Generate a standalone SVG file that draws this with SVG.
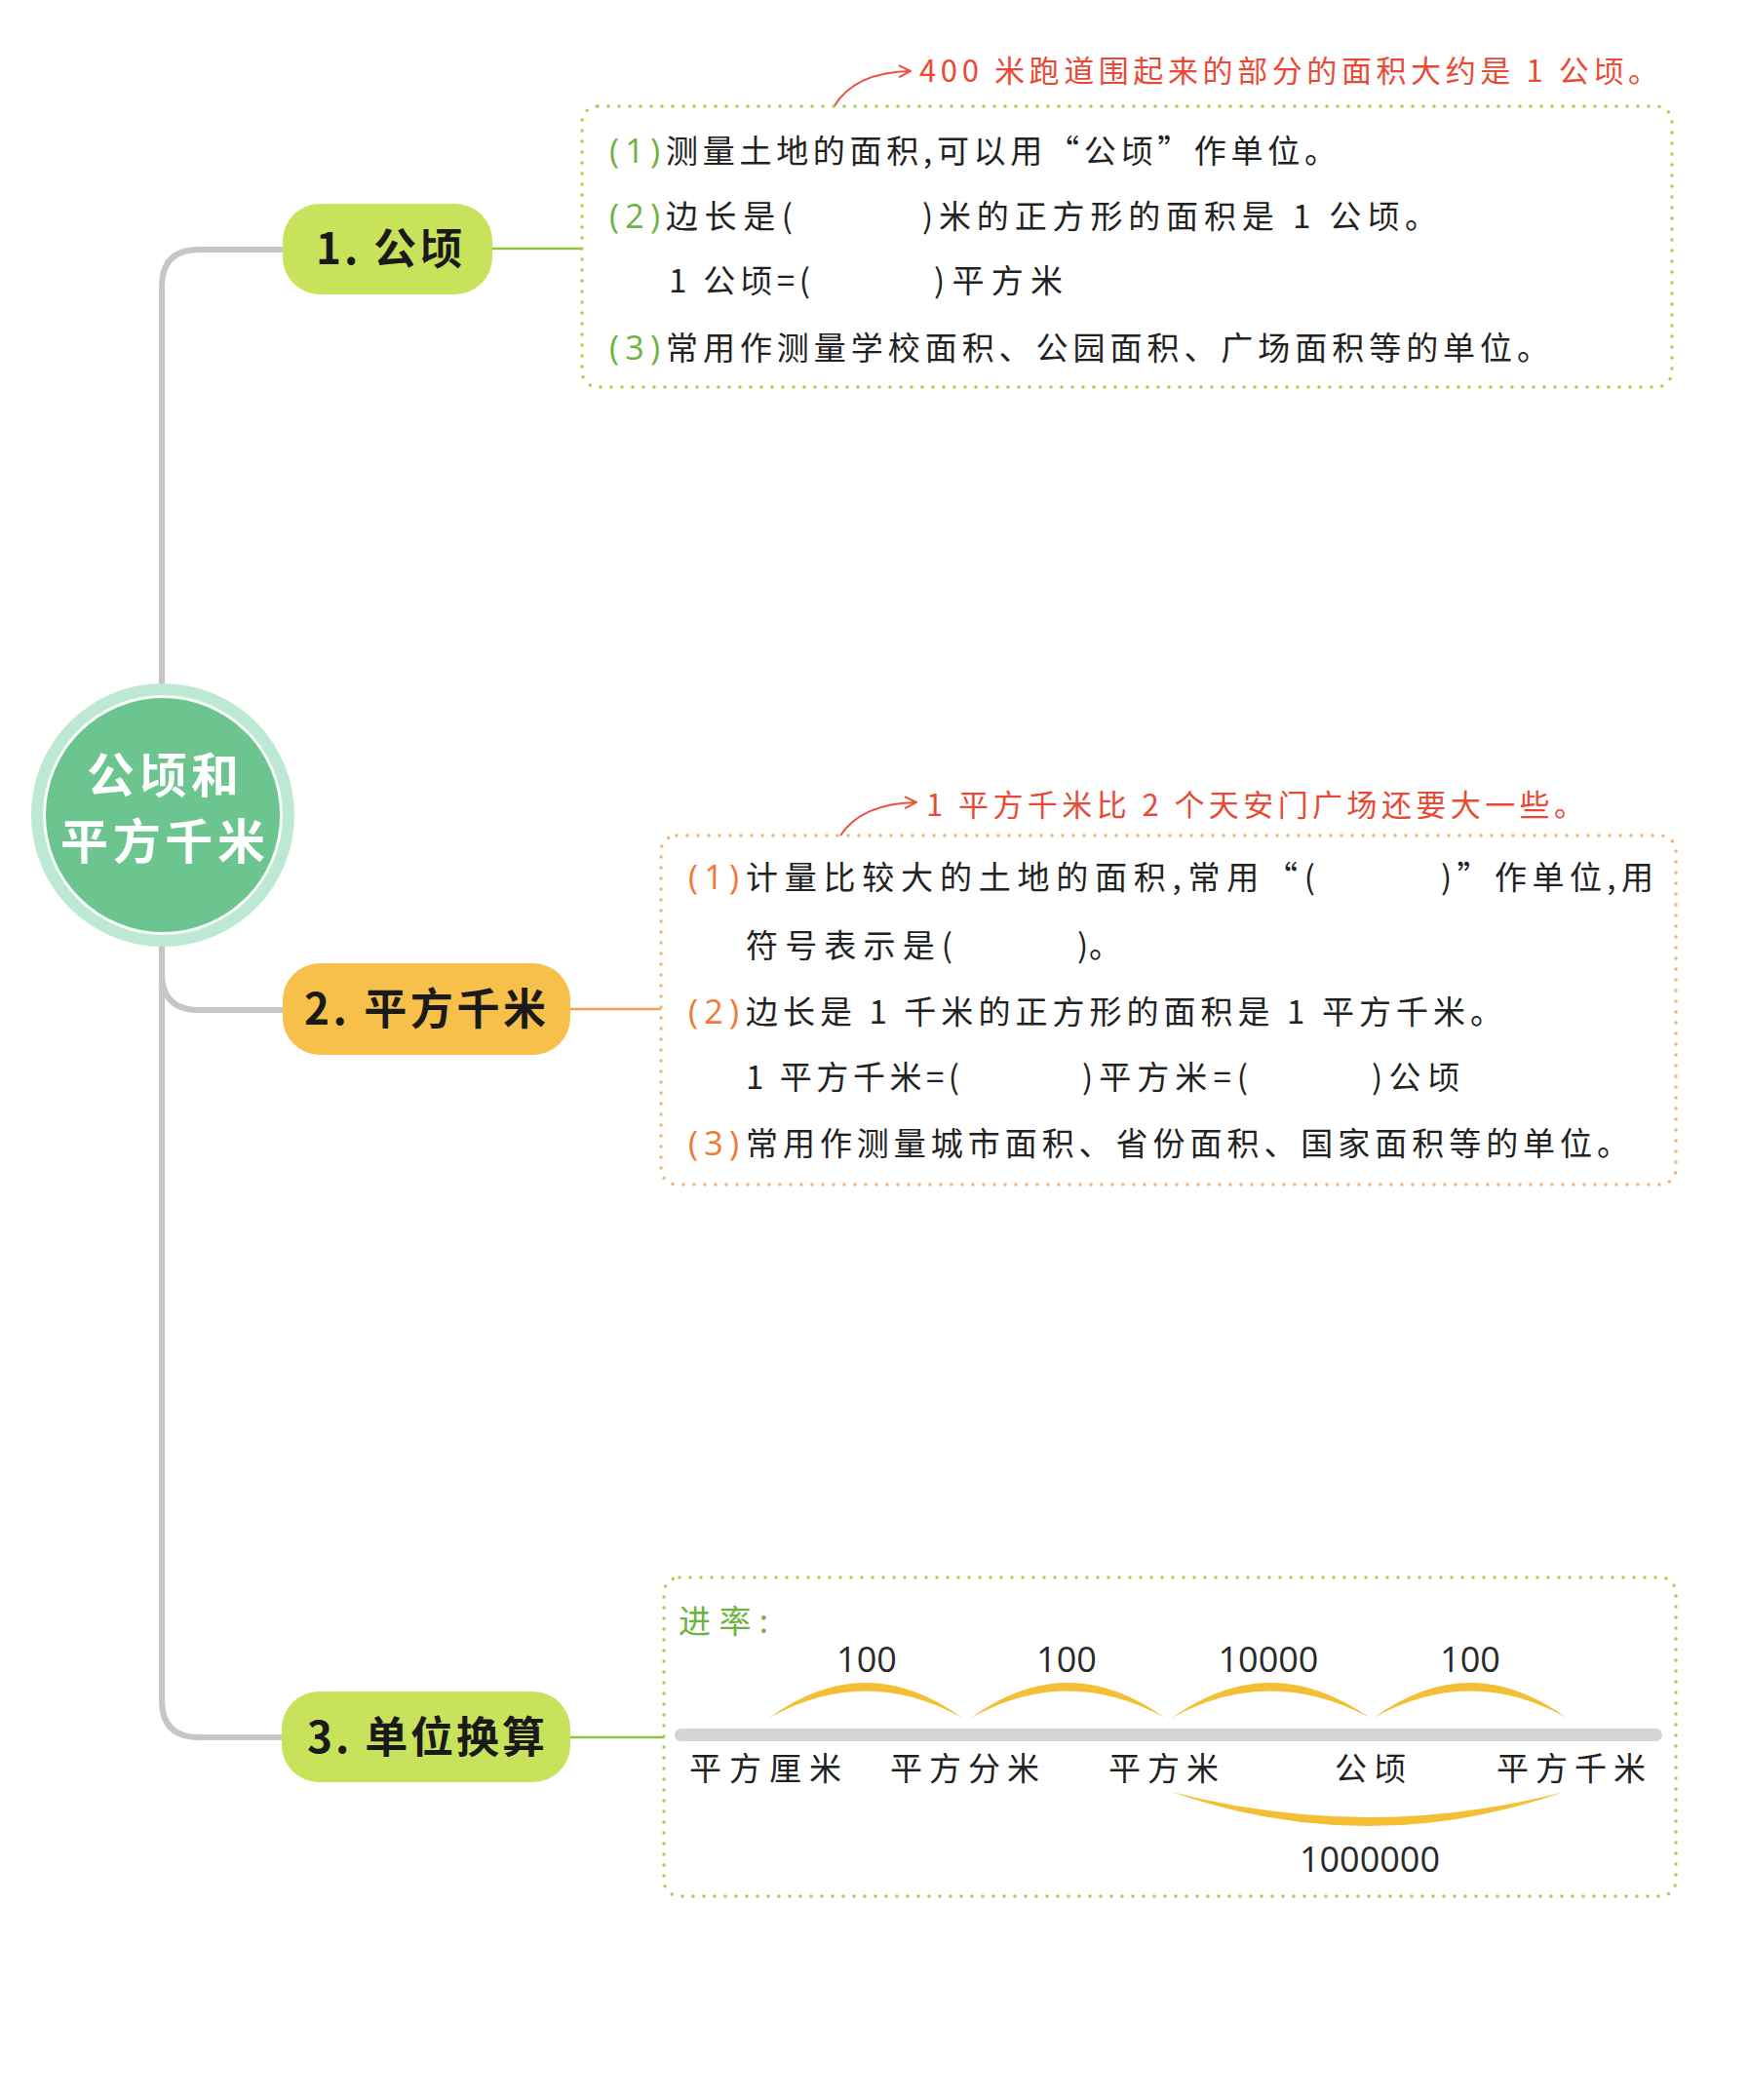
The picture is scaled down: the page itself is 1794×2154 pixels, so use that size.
<svg xmlns="http://www.w3.org/2000/svg" width="1794" height="2154" viewBox="0 0 1794 2154">
<defs>
<style>
.body{font-family:"Noto Sans CJK SC","Noto Sans",sans-serif;font-size:33px;fill:#222}
.num{font-family:"Open Sans","Noto Sans CJK SC",sans-serif;font-size:34px}
.lg{fill:#6db33f}
.lo{fill:#ef7a35}
.red{font-family:"Noto Sans CJK SC",sans-serif;font-size:31px;fill:#e84a35}
.node{font-family:"Noto Sans CJK SC",sans-serif;font-size:44px;font-weight:bold;fill:#1a1a1a}
.root{font-family:"Noto Sans CJK SC",sans-serif;font-size:49px;font-weight:bold;fill:#ffffff}
.rate{font-family:"Open Sans","Noto Sans",sans-serif;font-size:36px;fill:#2a2a2a}
.unit{font-family:"Noto Sans CJK SC",sans-serif;font-size:33px;fill:#222}
.arc{fill:#f2bf35}
.trunk{fill:none;stroke:#c6c6c6;stroke-width:6}
.dotg{fill:none;stroke:#a8cf4e;stroke-width:3.5;stroke-dasharray:0 11;stroke-linecap:round}
.doto{fill:none;stroke:#f2b277;stroke-width:3.5;stroke-dasharray:0 11;stroke-linecap:round}
.ann{fill:none;stroke:#e8533f;stroke-width:2}
</style>
<marker id="chev" viewBox="0 0 14 14" refX="13" refY="7" markerWidth="14" markerHeight="14" markerUnits="userSpaceOnUse" orient="auto">
<path d="M1,1 L13,7 L1,13" fill="none" stroke="#e8533f" stroke-width="2"/>
</marker>
</defs>
<rect width="1794" height="2154" fill="#ffffff"/>

<g id="connectors">
<path class="trunk" d="M 292 256 H 204 Q 166 256 166 294 V 1744 Q 166 1782 204 1782 H 292"/>
<path class="trunk" d="M 166 998 Q 166 1036 204 1036 H 292"/>
<line x1="503" y1="255" x2="597" y2="255" stroke="#8cc63f" stroke-width="2.5"/>
<line x1="583" y1="1035" x2="678" y2="1035" stroke="#f0a050" stroke-width="2.5"/>
<line x1="583" y1="1782" x2="681" y2="1782" stroke="#8cc63f" stroke-width="2.5"/>
<path class="ann" d="M 855 110 Q 876 74 934 73" marker-end="url(#chev)"/>
<path class="ann" d="M 862 857 Q 884 824 940 823" marker-end="url(#chev)"/>
</g>

<g id="root">
<circle cx="167" cy="836" r="135" fill="#bde9d4"/>
<circle cx="167" cy="836" r="123" fill="#ffffff" opacity="0.85"/>
<circle cx="167" cy="836" r="120" fill="#6cc48e"/>
<text class="root" x="167" y="813" text-anchor="middle" textLength="156" lengthAdjust="spacing">公顷和</text>
<text class="root" x="167" y="881" text-anchor="middle" textLength="210" lengthAdjust="spacing">平方千米</text>
</g>

<g id="node1">
<rect x="290" y="209" width="215" height="93" rx="38" fill="#c8e25c"/>
<text class="node" x="399" y="271" text-anchor="middle" textLength="150" lengthAdjust="spacing">1. 公顷</text>
</g>
<g id="node2">
<rect x="290" y="988" width="295" height="94" rx="38" fill="#f7c04b"/>
<text class="node" x="436" y="1051" text-anchor="middle" textLength="248" lengthAdjust="spacing">2. 平方千米</text>
</g>
<g id="node3">
<rect x="289" y="1735" width="296" height="93" rx="38" fill="#c8e25c"/>
<text class="node" x="437" y="1798" text-anchor="middle" textLength="244" lengthAdjust="spacing">3. 单位换算</text>
</g>

<g id="box1">
<rect class="dotg" x="597" y="109" width="1118" height="288" rx="16"/>
<text class="red" x="943" y="84" textLength="758" lengthAdjust="spacing">400 米跑道围起来的部分的面积大约是 1 公顷。</text>
<text class="num lg" x="625" y="167" textLength="52" lengthAdjust="spacing">(1)</text>
<text class="body" x="683" y="167" textLength="688" lengthAdjust="spacing">测量土地的面积,可以用“公顷”作单位。</text>
<text class="num lg" x="625" y="234" textLength="52" lengthAdjust="spacing">(2)</text>
<text class="body" x="683" y="234" textLength="130" lengthAdjust="spacing">边长是(</text>
<text class="body" x="946" y="234" textLength="528" lengthAdjust="spacing">)米的正方形的面积是 1 公顷。</text>
<text class="body" x="686" y="300" textLength="145" lengthAdjust="spacing">1 公顷=(</text>
<text class="body" x="958" y="300" textLength="132" lengthAdjust="spacing">)平方米</text>
<text class="num lg" x="625" y="369" textLength="52" lengthAdjust="spacing">(3)</text>
<text class="body" x="683" y="369" textLength="906" lengthAdjust="spacing">常用作测量学校面积、公园面积、广场面积等的单位。</text>
</g>

<g id="box2">
<rect class="doto" x="678" y="857" width="1041" height="358" rx="16"/>
<text class="red" x="950" y="837" textLength="675" lengthAdjust="spacing">1 平方千米比 2 个天安门广场还要大一些。</text>
<text class="num lo" x="706" y="912" textLength="52" lengthAdjust="spacing">(1)</text>
<text class="body" x="765" y="912" textLength="584" lengthAdjust="spacing">计量比较大的土地的面积,常用“(</text>
<text class="body" x="1478" y="912" textLength="218" lengthAdjust="spacing">)”作单位,用</text>
<text class="body" x="765" y="982" textLength="212" lengthAdjust="spacing">符号表示是(</text>
<text class="body" x="1105" y="982" textLength="45" lengthAdjust="spacing">)。</text>
<text class="num lo" x="706" y="1050" textLength="52" lengthAdjust="spacing">(2)</text>
<text class="body" x="765" y="1050" textLength="776" lengthAdjust="spacing">边长是 1 千米的正方形的面积是 1 平方千米。</text>
<text class="body" x="765" y="1117" textLength="219" lengthAdjust="spacing">1 平方千米=(</text>
<text class="body" x="1110" y="1117" textLength="170" lengthAdjust="spacing">)平方米=(</text>
<text class="body" x="1407" y="1117" textLength="90" lengthAdjust="spacing">)公顷</text>
<text class="num lo" x="706" y="1185" textLength="52" lengthAdjust="spacing">(3)</text>
<text class="body" x="765" y="1185" textLength="906" lengthAdjust="spacing">常用作测量城市面积、省份面积、国家面积等的单位。</text>
</g>

<g id="box3">
<rect class="dotg" x="681" y="1618" width="1038" height="327" rx="16"/>
<text class="body lg" x="696" y="1675" textLength="92" lengthAdjust="spacing">进率:</text>
<rect x="692" y="1773" width="1013" height="13" rx="6.5" fill="#d4d4d4"/>
<path class="arc" d="M 789 1762 Q 888 1690 987 1762 Q 888 1707 789 1762 Z"/>
<path class="arc" d="M 996 1762 Q 1095 1690 1195 1762 Q 1095 1707 996 1762 Z"/>
<path class="arc" d="M 1202 1762 Q 1303 1690 1405 1762 Q 1303 1707 1202 1762 Z"/>
<path class="arc" d="M 1409 1762 Q 1508 1690 1607 1762 Q 1508 1707 1409 1762 Z"/>
<path class="arc" d="M 1202 1838 Q 1403 1908 1604 1838 Q 1403 1890 1202 1838 Z"/>
<text class="rate" x="889" y="1715" text-anchor="middle">100</text>
<text class="rate" x="1094" y="1715" text-anchor="middle">100</text>
<text class="rate" x="1301" y="1715" text-anchor="middle">10000</text>
<text class="rate" x="1508" y="1715" text-anchor="middle">100</text>
<text class="rate" x="1405" y="1920" text-anchor="middle">1000000</text>
<text class="unit" x="707" y="1826" textLength="156" lengthAdjust="spacing">平方厘米</text>
<text class="unit" x="913" y="1826" textLength="153" lengthAdjust="spacing">平方分米</text>
<text class="unit" x="1137" y="1826" textLength="113" lengthAdjust="spacing">平方米</text>
<text class="unit" x="1369" y="1826" textLength="73" lengthAdjust="spacing">公顷</text>
<text class="unit" x="1535" y="1826" textLength="153" lengthAdjust="spacing">平方千米</text>
</g>
</svg>
